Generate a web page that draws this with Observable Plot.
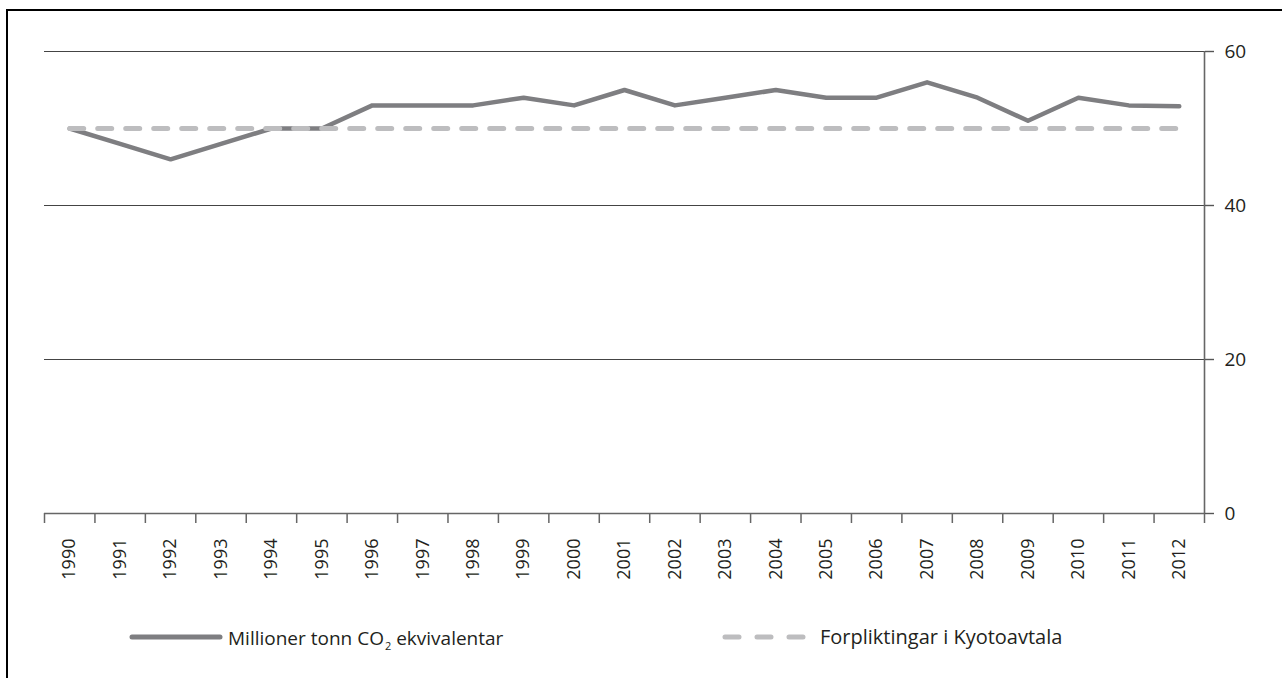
<!DOCTYPE html>
<html>
<head>
<meta charset="utf-8">
<script src="https://cdn.jsdelivr.net/npm/d3@7"></script>
<script src="https://cdn.jsdelivr.net/npm/@observablehq/plot@0.6"></script>
<style>
  html, body { margin: 0; padding: 0; background: #fff; overflow: hidden; width: 1282px; height: 678px; }
  #frame { position: absolute; left: 6px; top: 9px; width: 1400px; height: 800px; border: 2px solid #000; box-sizing: border-box; }
  #chart { position: absolute; left: 0; top: 0; }
  #chart svg text { font-size: 18px; }
  #chart svg g[aria-label="y-axis tick label"] text { font-size: 19px; }
  .leg { position: absolute; font-family: "Open Sans", sans-serif; font-size: 20px; color: #231f20; line-height: 20px; white-space: nowrap; }
  .leg sub { font-size: 11px; vertical-align: -5px; line-height: 0; margin-left: 1px; }
  .sw { position: absolute; }
</style>
</head>
<body>
<div id="frame"></div>
<div id="chart"></div>
<svg class="sw" style="left:125px;top:629px" width="102" height="16">
  <line x1="7" y1="8" x2="95" y2="8" stroke="#7e7e81" stroke-width="5" stroke-linecap="round"></line>
</svg>
<div class="leg" style="left:228px;top:627.5px;font-size:19px">Millioner tonn CO<sub>2</sub> ekvivalentar</div>
<svg class="sw" style="left:716px;top:629px" width="102" height="16">
  <line x1="9" y1="8" x2="90" y2="8" stroke="#bdbdbf" stroke-width="5" stroke-linecap="round" stroke-dasharray="14,18"></line>
</svg>
<div class="leg" style="left:820px;top:627px">Forpliktingar i Kyotoavtala</div>
<script>
const years = [1990, 1991, 1992, 1993, 1994, 1995, 1996, 1997, 1998, 1999, 2000, 2001, 2002, 2003, 2004, 2005, 2006, 2007, 2008, 2009, 2010, 2011, 2012];
const emissions = [50, 48, 46, 48, 50, 50, 53, 53, 53, 54, 53, 55, 53, 54, 55, 54, 54, 56, 54, 51, 54, 53, 52.9];
const kyotoYears = [1990, 2012];
const kyotoValues = [50, 50];
const yTicks = [0, 20, 40, 60];
const gridValues = [20, 40, 60];

const emData = years.map((y, i) => ({year: y, value: emissions[i]}));
const kyData = kyotoYears.map((y, i) => ({year: y, value: kyotoValues[i]}));
const boundaries = [years[0] - 0.5, ...years.map(y => y + 0.5)];

const plot = Plot.plot({
  width: 1282,
  height: 600,
  marginLeft: 44,
  marginRight: 78,
  marginTop: 51,
  marginBottom: 87,
  style: {fontFamily: "Open Sans, sans-serif", fontSize: "18px", color: "#231f20", background: "transparent"},
  x: {domain: [years[0] - 0.5, years[years.length - 1] + 0.5]},
  y: {domain: [0, 60]},
  marks: [
    Plot.ruleY(gridValues, {stroke: "#444", strokeWidth: 1.2}),
    Plot.ruleY([0], {stroke: "#666", strokeWidth: 1.6}),
    Plot.ruleX([years[years.length - 1] + 0.5], {y1: 0, y2: 60, stroke: "#666", strokeWidth: 1.6}),
    Plot.axisX({ticks: boundaries, tickSize: 10, tickFormat: () => "", stroke: "#666", strokeWidth: 1.5, label: null}),
    Plot.axisX({ticks: years, tickSize: 0, tickPadding: 25, tickRotate: -90, tickFormat: d => String(d), fontSize: 18, label: null}),
    Plot.axisY({anchor: "right", ticks: yTicks, tickSize: 9, tickPadding: 11, fontSize: 19, stroke: "#555", strokeWidth: 1.4, label: null}),
    Plot.line(emData, {x: "year", y: "value", stroke: "#7e7e81", strokeWidth: 4.5}),
    Plot.line(kyData, {x: "year", y: "value", stroke: "#bdbdbf", strokeWidth: 5, strokeDasharray: "14,14", strokeLinecap: "round"})
  ]
});
document.getElementById("chart").appendChild(plot);
</script>
</body>
</html>
